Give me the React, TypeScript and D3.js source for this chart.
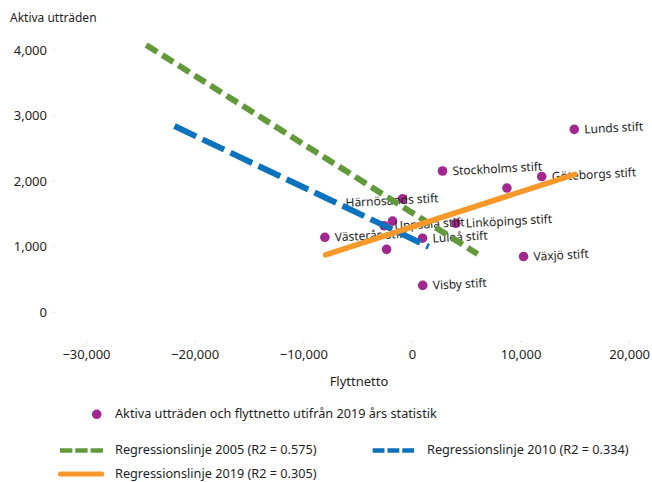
import React from "react";
import * as d3 from "d3";

const dioceses = [
  "Lunds stift", "Göteborgs stift", "Skara stift", "Stockholms stift", "Härnösands stift",
  "Strängnäs stift", "Uppsala stift", "Linköpings stift", "Västerås stift", "Luleå stift",
  "Växjö stift", "Visby stift", "Karlstads stift",
];
const flyttnetto = [14900, 11900, 8700, 2770, -910, -1830, -2600, 4000, -8060, 930, 10230, 950, -2380];
const aktivaUttraden = [2790, 2070, 1895, 2155, 1730, 1390, 1320, 1357, 1144, 1130, 850, 410, 960];
const unlabelled = ["Skara stift", "Strängnäs stift", "Karlstads stift"];

const xTicks = [-30000, -20000, -10000, 0, 10000, 20000];
const yTicks = [0, 1000, 2000, 3000, 4000];

const reg2005 = [[-24500, 4076], [6000, 889]];
const reg2010 = [[-21900, 2840], [1500, 1000]];
const reg2019 = [[-8000, 875], [14950, 2105]];

const legendDots = "Aktiva utträden och flyttnetto utifrån 2019 års statistik";
const legend2005 = "Regressionslinje 2005 (R2 = 0.575)";
const legend2010 = "Regressionslinje 2010 (R2 = 0.334)";
const legend2019 = "Regressionslinje 2019 (R2 = 0.305)";

const labelNudge: Record<string, [number, number]> = {
  "Härnösands stift": [-57, 4],
};

const PURPLE = "#a0288e";
const GREEN = "#62993b";
const BLUE = "#0b72bd";
const ORANGE = "#f7982a";
const TEXT = "#1e1e1e";
const FONT = "'Noto Sans', sans-serif";

export default function App() {
  const x = d3.scaleLinear().domain([-30000, 20000]).range([86.5, 629.7]);
  const y = d3.scaleLinear().domain([0, 4000]).range([312.3, 50]);
  const line = d3.line<number[]>().x((d) => x(d[0])).y((d) => y(d[1]));
  const fmt = d3.format(",");
  const fmtTick = (v: number) => fmt(v).replace("-", "\u2212").replace("−", "\u2212");

  return (
    <svg width={652} height={482} style={{ position: "absolute", left: 0, top: 0, fontFamily: FONT }}>
      <rect width={652} height={482} fill="#fff" />
      <text x={10} y={22} fontSize={12} fill={TEXT}>Aktiva utträden</text>
      {yTicks.map((t) => (
        <g key={"y" + t}>
          <line x1={53} x2={55} y1={y(t)} y2={y(t)} stroke="#ddd" strokeWidth={1} />
          <text x={47} y={y(t)} dy="0.35em" textAnchor="end" fontSize={13} fill={TEXT}>{fmt(t)}</text>
        </g>
      ))}
      {xTicks.map((t) => (
        <g key={"x" + t}>
          <line x1={x(t)} x2={x(t)} y1={341} y2={343} stroke="#ddd" strokeWidth={1} />
          <text x={x(t)} y={354} dy="0.35em" textAnchor="middle" fontSize={13} fill={TEXT}>{fmtTick(t)}</text>
        </g>
      ))}
      <text x={359} y={381} dy="0.35em" textAnchor="middle" fontSize={13} fill={TEXT}>Flyttnetto</text>

      {dioceses.map((name, i) => (
        <circle key={name} cx={x(flyttnetto[i])} cy={y(aktivaUttraden[i])} r={4.8} fill={PURPLE} />
      ))}
      {dioceses.map((name, i) => {
        if (unlabelled.includes(name)) return null;
        const [dx, dy] = labelNudge[name] || [10, 0];
        const px = x(flyttnetto[i]) + dx;
        const py = y(aktivaUttraden[i]) + dy;
        return (
          <text key={"l" + name} x={px} y={py} dy="0.35em" fontSize={12} fill={TEXT}
            transform={`rotate(-3 ${px} ${py})`}>{name}</text>
        );
      })}

      <path d={line(reg2005) || ""} stroke={GREEN} strokeWidth={6} fill="none" strokeDasharray="13 6" />
      <path d={line(reg2010) || ""} stroke={BLUE} strokeWidth={6} fill="none" strokeDasharray="24 7" />
      <path d={line(reg2019) || ""} stroke={ORANGE} strokeWidth={5.5} fill="none" strokeLinecap="round" />

      <circle cx={96.7} cy={414.3} r={4.8} fill={PURPLE} />
      <text x={115} y={414} dy="0.35em" fontSize={12.7} fill={TEXT}>{legendDots}</text>
      <line x1={60} x2={103} y1={450.5} y2={450.5} stroke={GREEN} strokeWidth={4.5} strokeDasharray="12.3 3" />
      <text x={115} y={450} dy="0.35em" fontSize={12.7} fill={TEXT}>{legend2005}</text>
      <line x1={372.7} x2={414} y1={450.5} y2={450.5} stroke={BLUE} strokeWidth={4.5} strokeDasharray="11.8 3" />
      <text x={427} y={450} dy="0.35em" fontSize={12.7} fill={TEXT}>{legend2010}</text>
      <line x1={60.5} x2={101.8} y1={474} y2={474} stroke={ORANGE} strokeWidth={5} strokeLinecap="round" />
      <text x={115} y={474} dy="0.35em" fontSize={12.7} fill={TEXT}>{legend2019}</text>
    </svg>
  );
}
